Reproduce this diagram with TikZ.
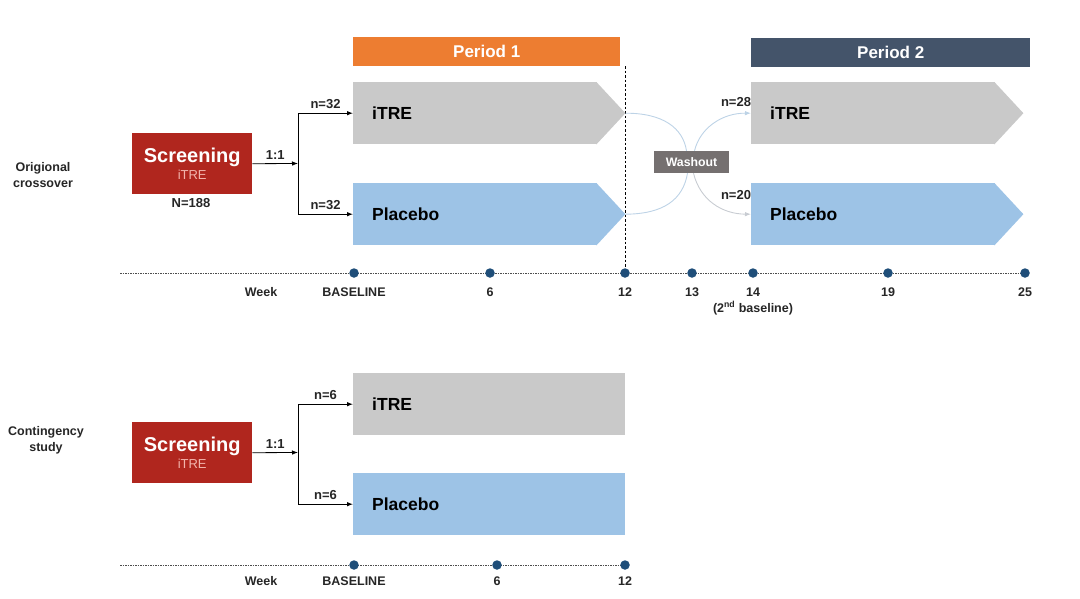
\documentclass[tikz,border=0pt]{standalone}
\usepackage{fontspec}
\setmainfont{Liberation Sans}
\usetikzlibrary{arrows.meta}
\definecolor{armgray}{HTML}{C9C9C9}
\definecolor{armblue}{HTML}{9DC3E6}
\definecolor{porange}{HTML}{ED7D31}
\definecolor{pslate}{HTML}{44546A}
\definecolor{scrred}{HTML}{B0261E}
\definecolor{scrpink}{HTML}{F2B4AC}
\definecolor{washgray}{HTML}{757070}
\definecolor{dotblue}{HTML}{1F4E79}
\definecolor{curveblue}{HTML}{BDD3E6}
\definecolor{curvegray}{HTML}{C8CCD2}
\definecolor{txtdark}{HTML}{262626}
\begin{document}
\begin{tikzpicture}[x=1pt,y=-1pt,
  armbox/.style={rectangle, minimum height=62pt, text width=206pt, inner xsep=19pt, inner ysep=0pt,
    align=left, anchor=north west, text=black, font=\fontsize{17.5}{19}\selectfont\bfseries},
  armwide/.style={armbox, text width=234pt},
  perbox/.style={rectangle, minimum height=29pt, minimum width=267pt, inner sep=0pt, anchor=north west,
    text=white, font=\fontsize{17}{19}\selectfont\bfseries},
  scrbox/.style={rectangle, fill=scrred, minimum width=120pt, minimum height=61pt, inner sep=0pt,
    anchor=north west, align=center, text=white},
  lbl/.style={font=\fontsize{12.5}{14}\selectfont\bfseries, text=txtdark, inner sep=1pt},
  nlbl/.style={lbl, font=\fontsize{13}{15}\selectfont\bfseries},
  side/.style={font=\fontsize{12.5}{16}\selectfont\bfseries, text=txtdark, align=center},
  conn/.style={draw=black, line width=0.8pt},
  arr/.style={conn, -{Latex[length=6pt,width=4.5pt]}},
  dot/.style={circle, fill=dotblue, minimum size=9.5pt, inner sep=0pt},
  tline/.style={draw=gray!60!black, line width=0.6pt, dash pattern=on 1.6pt off 0.9pt},
  curve/.style={draw=curveblue, line width=0.9pt},
]
\useasboundingbox (0,0) rectangle (1080,598);

% ---------- Period headers ----------
\node[perbox, fill=porange] (per1) at (353,37) {Period 1};
\node[perbox, fill=pslate, minimum width=279pt] (per2) at (751,38) {Period 2};

% ---------- Original crossover ----------
\node[side] (lab1) at (43,175) {Origional\\crossover};
\node[scrbox] (scr1) at (132,133) {{\fontsize{20}{22}\selectfont\bfseries Screening}\\[3pt]{\fontsize{13}{15}\selectfont\color{scrpink}iTRE}};
\node[nlbl] (N1) at (191,203) {N=188};

\node[armbox, fill=armgray] (a1) at (353,82) {iTRE};
\fill[armgray] ([xshift=-1pt]a1.north east) -- ([xshift=28pt]a1.east) -- ([xshift=-1pt]a1.south east) -- cycle;
\coordinate (a1tip) at ([xshift=28pt]a1.east);
\node[armbox, fill=armblue] (p1) at (353,183) {Placebo};
\fill[armblue] ([xshift=-1pt]p1.north east) -- ([xshift=28pt]p1.east) -- ([xshift=-1pt]p1.south east) -- cycle;
\coordinate (p1tip) at ([xshift=28pt]p1.east);

\node[armbox, fill=armgray] (a2) at (751,82) {iTRE};
\fill[armgray] ([xshift=-1pt]a2.north east) -- ([xshift=28pt]a2.east) -- ([xshift=-1pt]a2.south east) -- cycle;
\node[armbox, fill=armblue] (p2) at (751,183) {Placebo};
\fill[armblue] ([xshift=-1pt]p2.north east) -- ([xshift=28pt]p2.east) -- ([xshift=-1pt]p2.south east) -- cycle;

\coordinate (br1) at (298,163.5);
\draw[arr] (scr1.east) -- node[nlbl, above=3pt] (r1) {1:1} (br1);
\draw[conn] (a1.west -| br1) -- (p1.west -| br1);
\draw[arr] (a1.west -| br1) -- node[nlbl, above=3pt] (n1) {n=32} (a1.west);
\draw[arr] (p1.west -| br1) -- node[nlbl, above=3pt] (n2) {n=32} (p1.west);

% period divider
\coordinate (divtop) at (625,66);
\coordinate (divbot) at (625,270);
\draw[black, line width=0.8pt, dash pattern=on 2.5pt off 2pt] (divtop) -- (divbot);

% washout
\node[rectangle, fill=washgray, minimum width=75pt, minimum height=22pt, inner sep=0pt, text=white,
  font=\fontsize{12.3}{14}\selectfont\bfseries] (wash) at (691.5,162) {Washout};
\draw[curve] (a1tip) .. controls (663,113) and (683,128) .. ([xshift=-5pt]wash.north);
\draw[curve, -{Latex[length=6pt,width=4.5pt]}] ([xshift=3pt]wash.north) .. controls (700,128) and (722,113) .. (a2.west);
\draw[curve] ([xshift=-4pt]wash.south) .. controls (683,200) and (663,214) .. (p1tip);
\draw[curve, -{Latex[length=6pt,width=4.5pt]}, draw=curvegray] ([xshift=2pt]wash.south) .. controls (700,200) and (722,214) .. (p2.west);
\node[nlbl] (n3) at (736,102) {n=28};
\node[nlbl] (n4) at (736,195) {n=20};

% timeline 1
\coordinate (t1s) at (120,273);
\coordinate (t1e) at (1025,273);
\draw[tline] (t1s) -- (t1e);
\foreach \x/\name/\txt in {354/ta/BASELINE, 490/tb/6, 625/tc/12, 692/td/13, 753/te/14, 888/tf/19, 1025/tg/25}{
  \node[dot] (\name) at (\x,273) {};
  \node[lbl] (\name l) at (\x,292) {\txt};
}
\node[lbl] (wk1) at (261,292) {Week};
\node[lbl] (sb) at (753,308) {(2\textsuperscript{nd} baseline)};

% ---------- Contingency study ----------
\node[side] (lab2) at (46,440) {Contingency\\study};
\node[scrbox] (scr2) at (132,422) {{\fontsize{20}{22}\selectfont\bfseries Screening}\\[3pt]{\fontsize{13}{15}\selectfont\color{scrpink}iTRE}};

\node[armwide, fill=armgray] (a3) at (353,373) {iTRE};
\node[armwide, fill=armblue] (p3) at (353,473) {Placebo};

\coordinate (br2) at (298,452.5);
\draw[arr] (scr2.east) -- node[nlbl, above=3pt] (r2) {1:1} (br2);
\draw[conn] (a3.west -| br2) -- (p3.west -| br2);
\draw[arr] (a3.west -| br2) -- node[nlbl, above=3pt] (n5) {n=6} (a3.west);
\draw[arr] (p3.west -| br2) -- node[nlbl, above=3pt] (n6) {n=6} (p3.west);

% timeline 2
\coordinate (t2s) at (120,565);
\coordinate (t2e) at (625,565);
\draw[tline] (t2s) -- (t2e);
\foreach \x/\name/\txt in {354/ua/BASELINE, 497/ub/6, 625/uc/12}{
  \node[dot] (\name) at (\x,565) {};
  \node[lbl] (\name l) at (\x,581) {\txt};
}
\node[lbl] (wk2) at (261,581) {Week};
\end{tikzpicture}
\end{document}
